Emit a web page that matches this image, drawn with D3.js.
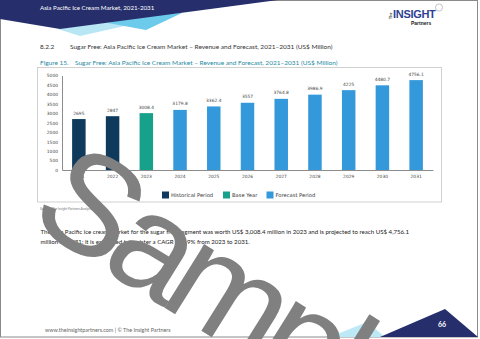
<!DOCTYPE html>
<html>
<head>
<meta charset="utf-8">
<script src="https://cdn.jsdelivr.net/npm/d3@7"></script>
<style>
  html, body { margin: 0; padding: 0; background: #fff; }
  svg { display: block; }
</style>
</head>
<body>
<div id="page"></div>
<script>
// Sugar free segment revenue, US$ million
const years = ["2021", "2022", "2023", "2024", "2025", "2026", "2027", "2028", "2029", "2030", "2031"];
const revenue = [2695, 2847, 3008.4, 3179.8, 3362.4, 3557, 3764.8, 3986.9, 4225, 4480.7, 4756.1];
const periods = ["Historical Period", "Historical Period", "Base Year",
  "Forecast Period", "Forecast Period", "Forecast Period", "Forecast Period",
  "Forecast Period", "Forecast Period", "Forecast Period", "Forecast Period"];
const legendItems = ["Historical Period", "Base Year", "Forecast Period"];
const yTicks = [0, 500, 1000, 1500, 2000, 2500, 3000, 3500, 4000, 4500, 5000];

const periodColor = d3.scaleOrdinal()
  .domain(legendItems)
  .range(["#0f3a5c", "#17a08a", "#3499db"]);

const W = 480, H = 339;
const bodyFont = "Lato, 'Open Sans', sans-serif";
const chartFont = "'DejaVu Sans', Verdana, sans-serif";

const svg = d3.select("#page").append("svg")
  .attr("width", W)
  .attr("height", H);

svg.append("rect").attr("width", W).attr("height", H).attr("fill", "#fff");

// page frame
svg.append("rect")
  .attr("x", 0.5).attr("y", 0.5)
  .attr("width", 477).attr("height", 336.5)
  .attr("fill", "none").attr("stroke", "#8a8a8a").attr("stroke-width", 1);

// header band
const header = svg.append("g");
header.append("polygon")
  .attr("points", "58,29 80,36 178,14 150,14")
  .attr("fill", "#b9e6f4");
header.append("polygon")
  .attr("points", "108,23 146,30 182,13 150,14")
  .attr("fill", "#6ccbea");
header.append("polygon")
  .attr("points", "0,0 278,0 60,29 0,19")
  .attr("fill", "#262f6c");
header.append("text")
  .attr("x", 40).attr("y", 9.5)
  .attr("font-family", bodyFont).attr("font-size", 6.2)
  .attr("fill", "#fff")
  .text("Asia Pacific Ice Cream Market, 2021-2031");

// logo
const logo = svg.append("g").attr("font-family", "'Liberation Sans', Arial, sans-serif");
logo.append("text")
  .attr("transform", "translate(392,19) rotate(-90)")
  .attr("font-size", 3.6).attr("font-weight", "bold").attr("fill", "#333")
  .text("The");
logo.append("text")
  .attr("x", 393).attr("y", 18)
  .attr("font-size", 11).attr("font-weight", "bold").attr("fill", "#2d3f92")
  .attr("letter-spacing", -0.3)
  .text("INSIGHT");
logo.append("circle")
  .attr("cx", 439).attr("cy", 7.5).attr("r", 3.6)
  .attr("fill", "none").attr("stroke", "#9aa0a8").attr("stroke-width", 0.6);
logo.append("text")
  .attr("x", 411).attr("y", 24.5)
  .attr("font-size", 5).attr("font-weight", "bold").attr("fill", "#222")
  .text("Partners");

// section headings
svg.append("text")
  .attr("x", 40).attr("y", 49)
  .attr("font-family", bodyFont).attr("font-size", 6.5).attr("fill", "#333")
  .text("8.2.2");
svg.append("text")
  .attr("x", 70).attr("y", 49)
  .attr("font-family", bodyFont).attr("font-size", 6.5).attr("fill", "#333")
  .text("Sugar Free: Asia Pacific Ice Cream Market \u2013 Revenue and Forecast, 2021\u20132031 (US$ Million)");
svg.append("text")
  .attr("x", 40).attr("y", 65)
  .attr("font-family", bodyFont).attr("font-size", 6.5).attr("fill", "#1f8aa3")
  .text("Figure 15.");
svg.append("text")
  .attr("x", 75).attr("y", 65)
  .attr("font-family", bodyFont).attr("font-size", 6.5).attr("fill", "#1f8aa3")
  .text("Sugar Free: Asia Pacific Ice Cream Market \u2013 Revenue and Forecast, 2021\u20132031 (US$ Million)");

// chart frame
svg.append("rect")
  .attr("x", 37.5).attr("y", 67.5)
  .attr("width", 404).attr("height", 134.5)
  .attr("fill", "none").attr("stroke", "#d0d0d0").attr("stroke-width", 1);

const x = d3.scaleBand()
  .domain(years)
  .range([62, 433])
  .paddingInner(0.6)
  .paddingOuter(0.3);

const y = d3.scaleLinear()
  .domain([0, 5000])
  .range([170, 75.5]);

const chart = svg.append("g");

chart.append("g")
  .attr("transform", "translate(62,0)")
  .call(d3.axisLeft(y).tickValues(yTicks).tickFormat(d3.format("d")).tickSize(0).tickPadding(4))
  .call(g => g.select(".domain").attr("stroke", "#8c8c8c"))
  .call(g => g.selectAll("text")
    .attr("font-family", chartFont).attr("font-size", 4.4).attr("fill", "#444"));

chart.selectAll("rect.bar")
  .data(revenue)
  .join("rect")
  .attr("class", "bar")
  .attr("x", (d, i) => x(years[i]))
  .attr("y", d => y(d))
  .attr("width", x.bandwidth())
  .attr("height", d => y(0) - y(d))
  .attr("fill", (d, i) => periodColor(periods[i]));

chart.selectAll("text.val")
  .data(revenue)
  .join("text")
  .attr("class", "val")
  .attr("x", (d, i) => x(years[i]) + x.bandwidth() / 2)
  .attr("y", d => y(d) - 4.5)
  .attr("text-anchor", "middle")
  .attr("font-family", chartFont).attr("font-size", 4.4).attr("fill", "#444")
  .text(d => String(d));

chart.append("g")
  .attr("transform", "translate(0,170)")
  .call(d3.axisBottom(x).tickSize(0).tickPadding(5))
  .call(g => g.select(".domain").attr("stroke", "#8c8c8c"))
  .call(g => g.selectAll("text")
    .attr("font-family", chartFont).attr("font-size", 4.4).attr("fill", "#444"));

// legend
const legendX = [162, 223, 266.5];
const legend = chart.selectAll("g.legend")
  .data(legendItems)
  .join("g")
  .attr("class", "legend")
  .attr("transform", (d, i) => `translate(${legendX[i]},191.5)`);
legend.append("rect")
  .attr("width", 7).attr("height", 7)
  .attr("fill", d => periodColor(d));
legend.append("text")
  .attr("x", 9).attr("y", 5.7)
  .attr("font-family", chartFont).attr("font-size", 5.2).attr("fill", "#333")
  .text(d => d);

svg.append("text")
  .attr("x", 40).attr("y", 210)
  .attr("font-family", bodyFont).attr("font-size", 3.4).attr("font-style", "italic")
  .attr("fill", "#777")
  .text("Source : The Insight Partners Analysis");

// commentary
const para = [
  "The Asia Pacific ice cream market for the sugar free segment was worth US$ 3,008.4 million in 2023 and is projected to reach US$ 4,756.1",
  "million by 2031; it is estimated to register a CAGR of 5.9% from 2023 to 2031."
];
svg.selectAll("text.para")
  .data(para)
  .join("text")
  .attr("class", "para")
  .attr("x", 40.5)
  .attr("y", (d, i) => 234 + i * 9.5)
  .attr("font-family", bodyFont).attr("font-size", 6.1).attr("fill", "#222")
  .text(d => d);

// footer
svg.append("text")
  .attr("x", 45).attr("y", 332)
  .attr("font-family", bodyFont).attr("font-size", 5.4).attr("fill", "#666")
  .text("www.theinsightpartners.com | \u00a9 The Insight Partners");
svg.append("polygon")
  .attr("points", "330,337 367,322 385,337")
  .attr("fill", "#bde8f5");
svg.append("polygon")
  .attr("points", "380,337 445,309 478,337")
  .attr("fill", "#262f6c");
svg.append("text")
  .attr("x", 442).attr("y", 327)
  .attr("text-anchor", "middle")
  .attr("font-family", bodyFont).attr("font-size", 7).attr("font-weight", "bold")
  .attr("fill", "#fff")
  .text("66");

// watermark
svg.append("text")
  .attr("transform", "translate(26,221) rotate(32)")
  .attr("font-family", "'Liberation Sans', Arial, sans-serif")
  .attr("font-size", 142)
  .attr("letter-spacing", -10)
  .attr("fill", "#808080")
  .text("Sample");
</script>
</body>
</html>
